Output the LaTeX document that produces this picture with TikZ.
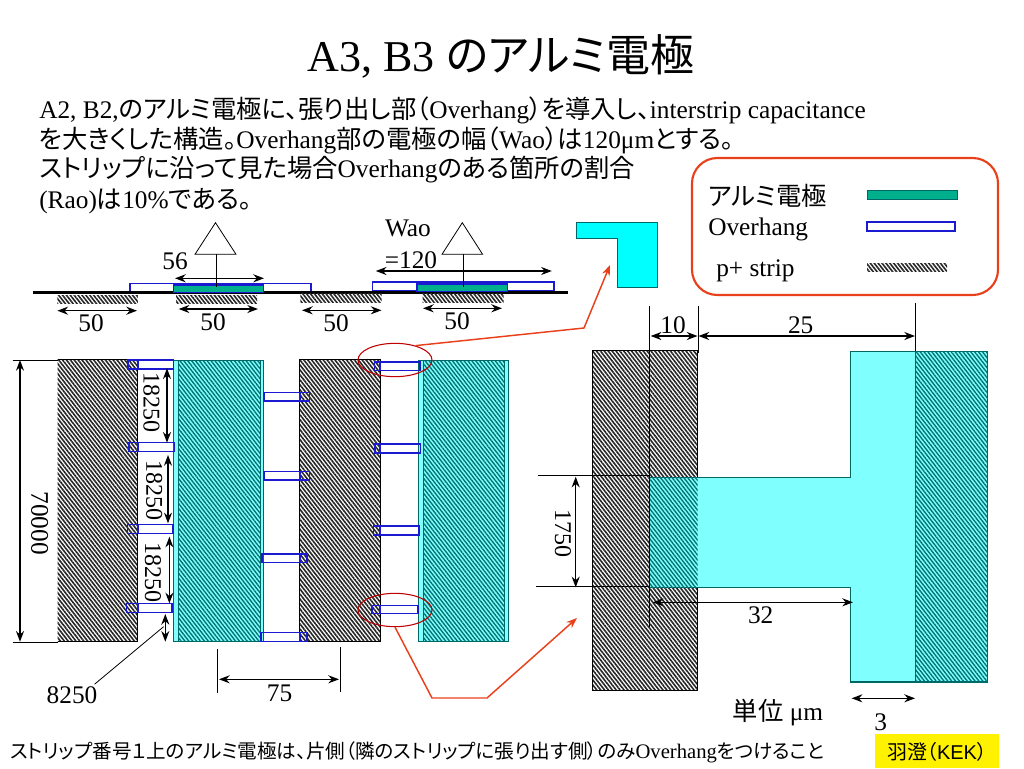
\documentclass[tikz,border=0pt]{standalone}
\usepackage{fontspec}
\usepackage{tikz}
\usetikzlibrary{arrows.meta,patterns.meta,shapes.geometric}
\setmainfont{Liberation Serif}
\newfontfamily\jp[RawFeature=+palt]{Noto Sans CJK JP}
\newfontfamily\gothic{Liberation Sans}
\definecolor{lightcyan}{HTML}{80FFFF}
\definecolor{purecyan}{HTML}{00FFFF}
\definecolor{tealedge}{HTML}{006666}
\definecolor{tealline}{HTML}{007070}
\definecolor{alugreen}{HTML}{00B08C}
\definecolor{overblue}{HTML}{1A1AD0}
\definecolor{redline}{HTML}{E8401A}
\tikzset{
	pstrip/.style={fill=white,pattern={Lines[angle=-52,distance=2.3pt,line width=1.2pt]},pattern color=black!85},
	alhatch/.style={pattern={Lines[angle=-52,distance=2.3pt,line width=1pt]},pattern color=tealline},
	overhang/.style={draw=overblue,line width=1.2pt},
	dimen/.style={<->,line width=1pt},
	thin line/.style={line width=0.6pt},
	redarrow/.style={draw=redline,line width=1.1pt},
	lab/.style={inner sep=0pt,font=\fontsize{19}{19}\selectfont},
	vlab/.style={inner sep=0pt,font=\fontsize{18}{18}\selectfont,rotate=-90},
	bodytext/.style={inner sep=0pt,anchor=west,font=\fontsize{19}{19}\selectfont}
}
\newcommand{\ja}[1]{{\jp\fontsize{19}{19}\selectfont #1}}
\begin{document}
\begin{tikzpicture}[x=0.75pt,y=-0.75pt,>={Stealth[length=8pt,width=6pt]}]
	\useasboundingbox (0,0) rectangle (1024,768);
	% heading and text
	\node[inner sep=0pt,font=\fontsize{33}{33}\selectfont] (title) at (501,56) {A3, B3 {\jp\fontsize{33}{33}\selectfont のアルミ電極}};
	\node[bodytext] (lineA) at (39,110) {A2, B2,\ja{のアルミ電極に、張り出し部（}Overhang\ja{）を導入し、}interstrip capacitance};
	\node[bodytext] (lineB) at (39,140) {\ja{を大きくした構造。}Overhang\ja{部の電極の幅（}Wao\ja{）は}120μm\ja{とする。}};
	\node[bodytext] (lineC) at (39,170) {\ja{ストリップに沿って見た場合}Overhang\ja{のある箇所の割合}};
	\node[bodytext] (lineD) at (39,201) {(Rao)\ja{は}10\%\ja{である。}};
	% legend
	\draw[redline,line width=1.6pt,rounded corners=19pt] (692,158) rectangle (998,295);
	\node[bodytext] (legAl) at (708,196) {\ja{アルミ電極}};
	\node[bodytext] (legOver) at (708,229) {Overhang};
	\node[bodytext] (legP) at (716,271) {p+ strip};
	\draw[tealedge,fill=alugreen,line width=0.6pt] (867,190) rectangle (957,199);
	\draw[overhang,fill=white] (867,222) rectangle (955,231);
	\path[pstrip] (867,263) rectangle (947,271);
	% cross section
	\draw[overhang,fill=white] (130,283.3) rectangle (311,292);
	\draw[overhang,fill=white] (372.4,281.7) rectangle (553.8,290.3);
	\draw[line width=2.2pt] (32.5,292.3)--(568,292.3);
	\path[pstrip] (57.4,295) rectangle (137.8,303.7);
	\path[pstrip] (176,295) rectangle (257,303.7);
	\path[pstrip] (300.4,293.3) rectangle (381.5,302);
	\path[pstrip] (422.5,293.3) rectangle (503.6,302);
	\draw[overblue,fill=alugreen,line width=0.8pt] (173.4,285) rectangle (263.7,292.7);
	\draw[overblue,fill=alugreen,line width=0.8pt] (417,284) rectangle (507.5,291.7);
	\draw[thin line,fill=white] (215.5,222.7)--(236,254.3)--(195,254.3)--cycle;
	\draw[thin line,fill=white] (462.3,222.7)--(482.6,254.3)--(442,254.3)--cycle;
	\draw[thin line] (216,254.3)--(216,287);
	\draw[thin line] (463,254.3)--(463,287);
	\draw[dimen] (175,278.3)--(264,278.3);
	\draw[dimen] (375.8,271)--(551.8,271);
	\draw[dimen] (57.4,310.7)--(137,310.7);
	\draw[dimen] (178.7,309)--(258,309);
	\draw[dimen] (302,310.3)--(381.5,310.3);
	\draw[dimen] (423,308.3)--(502,308.3);
	\node[lab] (dimA) at (175,261) {56};
	\node[lab] (dimB) at (408,228) {Wao};
	\node[lab] (dimC) at (411,260) {=120};
	\node[lab] (dimD) at (91,323) {50};
	\node[lab] (dimE) at (213,322) {50};
	\node[lab] (dimF) at (336,323) {50};
	\node[lab] (dimG) at (457,321) {50};
	% strips, plan view
	\path[pstrip] (57.5,359.5) rectangle (137.7,641.7);
	\draw[thin line] (57.5,359.5)--(137.7,359.5)--(137.7,641.7)--(57.5,641.7);
	\path[pstrip] (299,359.5) rectangle (380,641.7);
	\draw[thin line] (299,359.5) rectangle (380,641.7);
	\draw[tealedge,fill=lightcyan,line width=0.7pt] (173,360) rectangle (263.8,641.7);
	\path[alhatch] (178.4,360) rectangle (260.3,641.7);
	\draw[tealedge,line width=0.7pt] (178.4,360) rectangle (260.3,641.7);
	\draw[tealedge,fill=lightcyan,line width=0.7pt] (418.4,360) rectangle (508.6,641.7);
	\path[alhatch] (423,360) rectangle (504,641.7);
	\draw[tealedge,line width=0.7pt] (423,360) rectangle (504,641.7);
	% overhangs
	\draw[overhang] (128,360) rectangle (173.5,369);
	\draw[overhang] (129,442.3) rectangle (174.6,451.3);
	\draw[overhang] (127.4,524.3) rectangle (172.9,533.3);
	\draw[overhang] (126.4,603.3) rectangle (172.2,612.3);
	\draw[overhang] (137.7,360)--(137.7,369) (137.7,442.3)--(137.7,451.3) (137.7,524.3)--(137.7,533.3) (137.7,603.3)--(137.7,612.3);
	\draw[overhang] (263.8,392.3) rectangle (309.6,401);
	\draw[overhang] (263.8,471.3) rectangle (309.6,480);
	\draw[overhang] (261.7,553.7) rectangle (307.2,562.3);
	\draw[overhang] (261,632.3) rectangle (306.8,641.3);
	\draw[overhang] (300,392.3)--(300,401) (300,471.3)--(300,480) (300,553.7)--(300,562.3) (300,632.3)--(300,641.3);
	\draw[overhang] (374.3,361.7) rectangle (419.8,370.3);
	\draw[overhang] (375,444) rectangle (420.5,452.7);
	\draw[overhang] (373.3,526) rectangle (419,534.7);
	\draw[overhang] (372.2,605.3) rectangle (418,613.3);
	\draw[overhang] (380,361.7)--(380,370.3) (380,444)--(380,452.7) (380,526)--(380,534.7) (380,605.3)--(380,613.3);
	% dimensions, plan view
	\draw[thin line] (12.7,360)--(57.5,360);
	\draw[thin line] (12.7,642)--(57.5,642);
	\draw[dimen] (20,360)--(20,641.7);
	\draw[dimen] (167,368.3)--(167,442.7);
	\draw[dimen] (168,455)--(168,523.3);
	\draw[dimen] (169.4,536.7)--(169.4,603.3);
	\draw[dimen] (165.3,614)--(165.3,641.7);
	\node[vlab] (dimH) at (39.6,523) {\fontsize{19}{19}\selectfont 70000};
	\node[vlab] (dimI) at (151.5,402) {18250};
	\node[vlab] (dimJ) at (154.3,490) {18250};
	\node[vlab] (dimK) at (153,572) {18250};
	\node[lab] (dimL) at (72,695) {8250};
	\draw[thin line] (dimL.north east)++(-3,-2)--(163.6,626.7);
	\draw[thin line] (217,649)--(217,693);
	\draw[thin line] (340,647)--(340,691.7);
	\draw[dimen] (219,679.3)--(339,679.3);
	\node[lab] (dimM) at (279.6,693) {75};
	% enlarged view
	\path[pstrip] (592.3,350.3) rectangle (697.7,690);
	\draw[thin line] (592.3,350.3) rectangle (697.7,690);
	\draw[tealedge,fill=lightcyan,line width=0.8pt] (850.7,351.3)--(987.7,351.3)--(987.7,682)--(850.7,682)--(850.7,587.3)--(649.3,587.3)--(649.3,477.3)--(850.7,477.3)--cycle;
	\path[alhatch] (915,351.3) rectangle (987.7,682);
	\path[alhatch] (649.3,477.3) rectangle (697.7,587.3);
	\draw[tealedge,line width=0.7pt] (915,351.3)--(915,682);
	\draw[thin line] (649.3,306)--(649.3,626.7);
	\draw[thin line] (698,306)--(698,353);
	\draw[thin line] (915,303)--(915,351.3);
	\draw[thin line] (538,475)--(650,475);
	\draw[thin line] (536,586.7)--(649,586.7);
	\draw[dimen] (650.7,336)--(697.5,336);
	\draw[dimen] (698.5,336)--(915,336);
	\draw[dimen] (575.7,476.7)--(575.7,587.3);
	\draw[dimen] (652.7,602.3)--(853,602.3);
	\draw[dimen] (851.7,698.3)--(915,698.3);
	\node[lab] (dimN) at (673,325) {10};
	\node[lab] (dimO) at (800.7,325) {25};
	\node[vlab] (dimP) at (563,533.7) {1750};
	\node[lab] (dimQ) at (760.7,615) {32};
	\node[lab] (dimR) at (880.7,722) {3};
	\node[lab] (unit) at (778,712.7) {\ja{単位} μm};
	% corner piece and red leaders
	\draw[tealedge,fill=purecyan,line width=0.6pt] (576,222.7)--(657,222.7)--(657,287)--(617,287)--(617,238)--(576,238)--cycle;
	\node[ellipse,draw=red!75!black,line width=0.8pt,minimum width=55.5pt,minimum height=25pt,inner sep=0pt] (ringA) at (395,360) {};
	\node[ellipse,draw=red!75!black,line width=0.8pt,minimum width=55.5pt,minimum height=25pt,inner sep=0pt] (ringB) at (395,610) {};
	\coordinate (bendA) at (584,328);
	\coordinate (tipA) at (610,265);
	\coordinate (bendB) at (432,698);
	\coordinate (bendC) at (487,698);
	\coordinate (tipB) at (577,618);
	\draw[redarrow,-{Stealth[length=8pt,width=6pt]}] (ringA.35)--(bendA)--(tipA);
	\draw[redarrow,-{Stealth[length=8pt,width=6pt]}] (ringB.south)--(bendB)--(bendC)--(tipB);
	% footer
	\node[inner sep=0pt,anchor=west,font=\fontsize{15.5}{15.5}\selectfont] (footer) at (10,752) {{\jp\fontsize{14.7}{15.5}\selectfont ストリップ番号１上のアルミ電極は、片側（隣のストリップに張り出す側）のみ}Overhang{\jp\fontsize{14.7}{15.5}\selectfont をつけること}};
	\fill[yellow] (875,734) rectangle (999,768);
	\node[inner sep=0pt,font=\fontsize{15}{15}\selectfont] (kek) at (937,752) {{\jp 羽澄（}\gothic KEK{\jp ）}};
\end{tikzpicture}
\end{document}
